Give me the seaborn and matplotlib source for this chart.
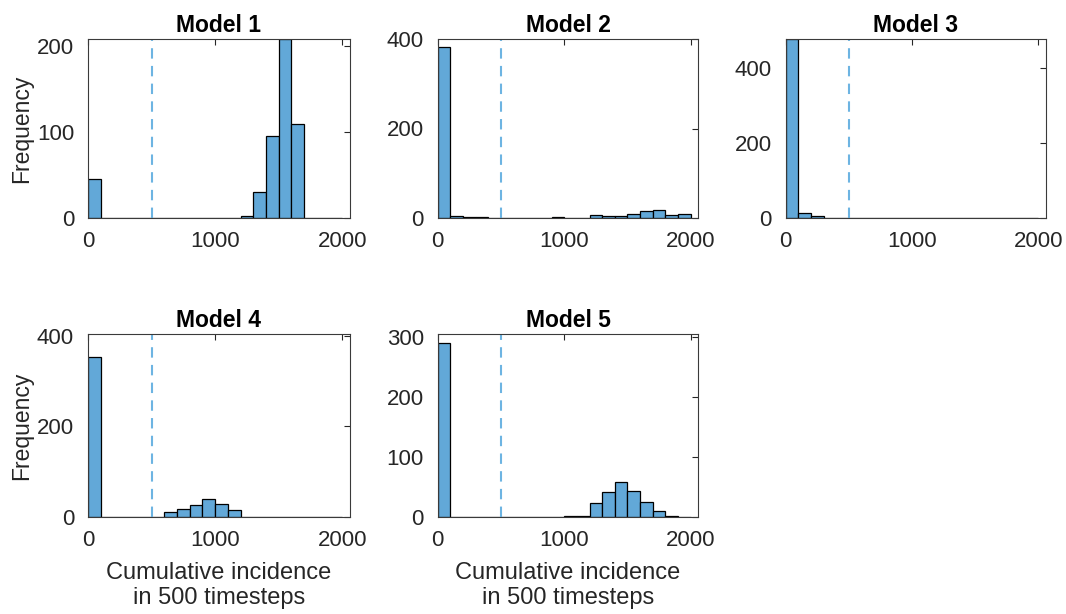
import numpy as np
import pandas as pd
import matplotlib
matplotlib.use("Agg")
import matplotlib.pyplot as plt
import seaborn as sns

sns.set_style("white")
plt.rcParams['font.family'] = ['Liberation Sans', 'DejaVu Sans']

# Bin edges (width 100) shared by all models
bin_edges = list(range(0, 2100, 100))
bin_centers = [e + 50 for e in bin_edges[:-1]]

model1_counts = [45, 0, 0, 0, 0, 0, 0, 0, 0, 0, 0, 0, 2, 30, 95, 208, 109, 0, 0, 0]
model2_counts = [383, 4, 2, 2, 0, 0, 1, 0, 1, 3, 0, 1, 6, 4, 5, 10, 15, 17, 6, 8]
model3_counts = [477, 13, 6, 0, 0, 0, 0, 0, 0, 0, 0, 0, 0, 0, 0, 0, 0, 0, 0, 0]
model4_counts = [354, 0, 0, 0, 0, 0, 11, 17, 26, 39, 28, 15, 1, 0, 0, 0, 0, 0, 0, 0]
model5_counts = [291, 0, 0, 0, 0, 0, 0, 0, 0, 0, 1, 1, 23, 41, 58, 44, 25, 10, 2, 0]

titles = ["Model 1", "Model 2", "Model 3", "Model 4", "Model 5"]
all_counts = [model1_counts, model2_counts, model3_counts, model4_counts, model5_counts]
y_limits = [208, 400, 477, 403, 305]
y_ticks = [[0, 100, 200], [0, 200, 400], [0, 200, 400], [0, 200, 400], [0, 100, 200, 300]]
x_ticks = [0, 1000, 2000]
threshold = 500

W, H = 1066, 614
# axes boxes in pixels: left, top, right, bottom
boxes = [
    (88, 39, 350, 218),
    (437.7, 39, 698.3, 218),
    (785.7, 39, 1046, 218),
    (88, 334.3, 350, 517),
    (437.7, 334.3, 698.3, 517),
]

fig = plt.figure(figsize=(W / 100, H / 100), dpi=100)
bar_color = "#62a8d8"
line_color = "#6db4e2"
text_color = "#262626"

for i, (title, counts) in enumerate(zip(titles, all_counts)):
    l, t, r, b = boxes[i]
    ax = fig.add_axes([l / W, (H - b) / H, (r - l) / W, (b - t) / H])
    df = pd.DataFrame({"x": bin_centers, "w": counts})
    sns.histplot(data=df, x="x", weights="w", bins=bin_edges, ax=ax,
                 color=bar_color, alpha=1.0, edgecolor="black", linewidth=0.9)
    ax.axvline(threshold, color=line_color, linestyle=(0, (5, 3.5)), linewidth=1.5)
    ax.set_xlim(0, 2060)
    ax.set_ylim(0, y_limits[i])
    ax.set_xticks(x_ticks)
    ax.set_yticks(y_ticks[i])
    ax.tick_params(direction="in", length=4, width=0.8, top=True, right=True,
                   labelsize=16, colors=text_color)
    ax.tick_params(axis="x", pad=9)
    ax.tick_params(axis="y", pad=10)
    for sp in ax.spines.values():
        sp.set_visible(True)
        sp.set_color("#3a3a3a")
        sp.set_linewidth(0.8)
    ax.set_title(title, fontsize=16.5, fontweight="bold", color="black", pad=5)
    if i in (0, 3):
        ax.set_ylabel("Frequency", fontsize=16.5, color=text_color, labelpad=3)
    else:
        ax.set_ylabel("")
    if i in (3, 4):
        ax.set_xlabel("Cumulative incidence\nin 500 timesteps", fontsize=17,
                      color=text_color, labelpad=8, linespacing=1.22)
    else:
        ax.set_xlabel("")

fig.savefig("out.png", dpi=100)
